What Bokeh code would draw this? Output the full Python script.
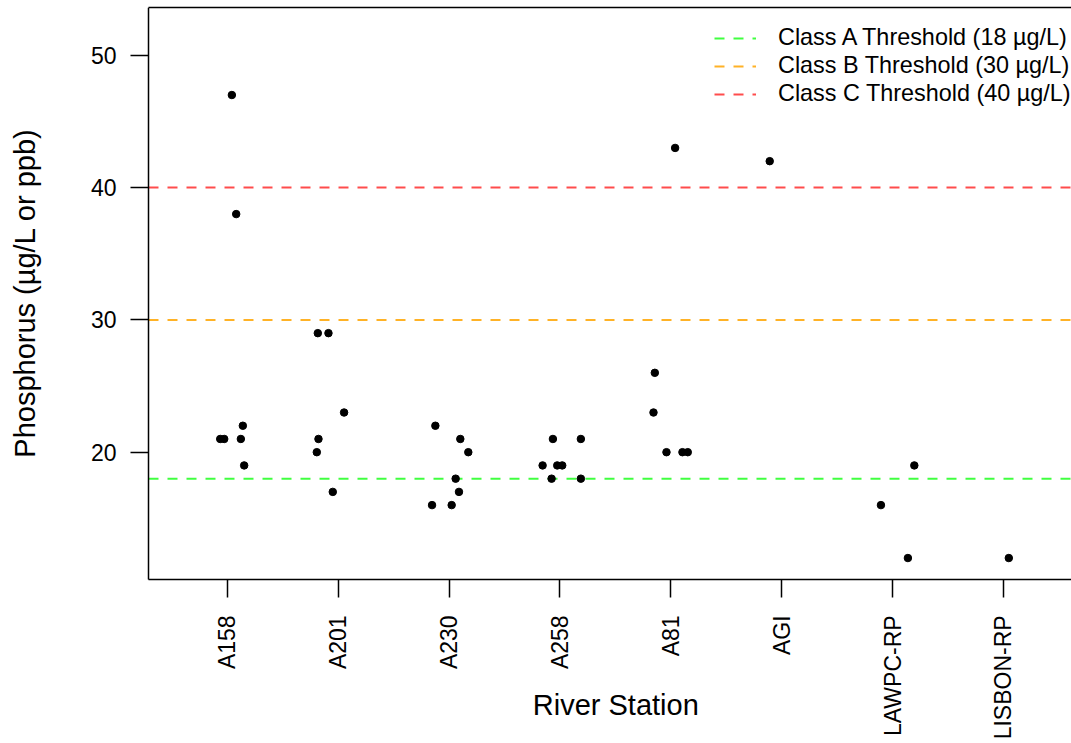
import math
from bokeh.plotting import figure
from bokeh.models import (Range1d, FixedTicker, LinearAxis, Legend, LegendItem, Label)
from bokeh.embed import file_html
from bokeh.resources import INLINE

# ---------------- data ----------------
stations = ["A158", "A201", "A230", "A258", "A81", "AGI", "LAWPC-RP", "LISBON-RP"]

point_station = (["A158"] * 7 + ["A201"] * 6 + ["A230"] * 7 + ["A258"] * 7 +
                 ["A81"] * 6 + ["AGI"] * 1 + ["LAWPC-RP"] * 3 + ["LISBON-RP"] * 1)
phosphorus = [21, 21, 47, 38, 22, 21, 19,
              29, 29, 23, 21, 20, 17,
              22, 21, 20, 18, 17, 16, 16,
              21, 21, 19, 19, 19, 18, 18,
              43, 26, 23, 20, 20, 20,
              42,
              16, 19, 12,
              12]
# horizontal jitter (in category units)
jitter = [-0.063, -0.027, 0.042, 0.081, 0.141, 0.123, 0.153,
          -0.183, -0.087, 0.054, -0.177, -0.192, -0.048,
          -0.123, 0.102, 0.174, 0.060, 0.090, -0.153, 0.024,
          -0.063, 0.189, -0.156, -0.024, 0.021, -0.075, 0.189,
          0.039, -0.144, -0.156, -0.039, 0.105, 0.153,
          -0.108,
          -0.105, 0.196, 0.138,
          0.048]

thresholds = [18, 30, 40]
threshold_labels = ["Class A Threshold (18 \u00b5g/L)",
                    "Class B Threshold (30 \u00b5g/L)",
                    "Class C Threshold (40 \u00b5g/L)"]
threshold_colors = ["#00FF00", "#FFA500", "#FF0000"]
threshold_alpha = [0.75, 0.85, 0.7]

y_ticks = [20, 30, 40, 50]

FONT = "Liberation Sans"

# ---------------- layout constants ----------------
# the frame covers the whole canvas; the plotting box is drawn with bounded axes
x_canvas_left, x_box_left, x_end = -1.0443, 0.2903, 8.6133
y_canvas_bottom, box_bottom, y_top = -2.02, 10.386, 53.616

p = figure(width=1071, height=743,
           x_range=Range1d(x_canvas_left, x_end), y_range=Range1d(y_canvas_bottom, y_top),
           output_backend="svg", toolbar_location=None,
           min_border_left=0, min_border_right=0,
           min_border_top=7, min_border_bottom=0)
p.xgrid.visible = False
p.ygrid.visible = False
p.outline_line_color = None
p.background_fill_color = "white"
p.border_fill_color = "white"

# y axis at the left edge of the box
ya = p.yaxis[0]
ya.fixed_location = x_box_left
ya.bounds = (box_bottom, y_top)
ya.ticker = FixedTicker(ticks=y_ticks, minor_ticks=[])
ya.major_tick_out = 18
ya.major_tick_in = 0
ya.minor_tick_out = 0
ya.minor_tick_in = 0
ya.major_label_standoff = 14
ya.major_label_text_font = FONT
ya.major_label_text_font_size = "23px"
ya.major_label_text_color = "black"
ya.axis_line_width = 1.5
ya.major_tick_line_width = 1.5

# x axis at the bottom of the box
xa = p.xaxis[0]
xa.fixed_location = box_bottom
xa.bounds = (x_box_left, x_end)
xa.ticker = FixedTicker(ticks=list(range(1, len(stations) + 1)), minor_ticks=[])
xa.major_label_overrides = {i + 1: s for i, s in enumerate(stations)}
xa.major_label_orientation = math.pi / 2
xa.major_tick_out = 18
xa.major_tick_in = 0
xa.minor_tick_out = 0
xa.minor_tick_in = 0
xa.major_label_standoff = 18
xa.major_label_text_font = FONT
xa.major_label_text_font_size = "23px"
xa.major_label_text_color = "black"
xa.axis_line_width = 1.5
xa.major_tick_line_width = 1.5

# top border line of the box
top = LinearAxis(ticker=FixedTicker(ticks=[], minor_ticks=[]), bounds=(x_box_left, x_end),
                 major_tick_out=0, major_tick_in=0, minor_tick_out=0, minor_tick_in=0,
                 major_label_text_font_size="0px", major_label_standoff=0,
                 axis_line_width=1.5)
p.add_layout(top, "above")

# axis titles
p.add_layout(Label(x=4.504, y=0.896, text="River Station", text_align="center",
                   text_baseline="middle", text_font=FONT,
                   text_font_size="29px", text_color="black"))
p.add_layout(Label(x=-0.826, y=32.036, text="Phosphorus (\u00b5g/L or ppb)",
                   angle=math.pi / 2, text_align="center",
                   text_baseline="middle", text_font=FONT,
                   text_font_size="29px", text_color="black"))

# thresholds
items = []
for t, c, a, lab in zip(thresholds, threshold_colors, threshold_alpha, threshold_labels):
    r = p.line(x=[x_box_left, x_end], y=[t, t], line_color=c, line_alpha=a,
               line_width=2, line_dash="10 9")
    items.append(LegendItem(label=lab, renderers=[r]))

# points
xs = [stations.index(s) + 1 + j for s, j in zip(point_station, jitter)]
p.scatter(x=xs, y=phosphorus, size=7.5, color="black")

legend = Legend(items=items, location=(714, 636),
                label_text_font=FONT, label_text_font_size="23.4px",
                label_text_color="black",
                glyph_width=42, glyph_height=26, label_height=26,
                label_standoff=22, spacing=1, padding=0, margin=0,
                border_line_color=None, background_fill_alpha=0)
p.add_layout(legend)

open("out.html", "w").write(file_html(p, INLINE))
